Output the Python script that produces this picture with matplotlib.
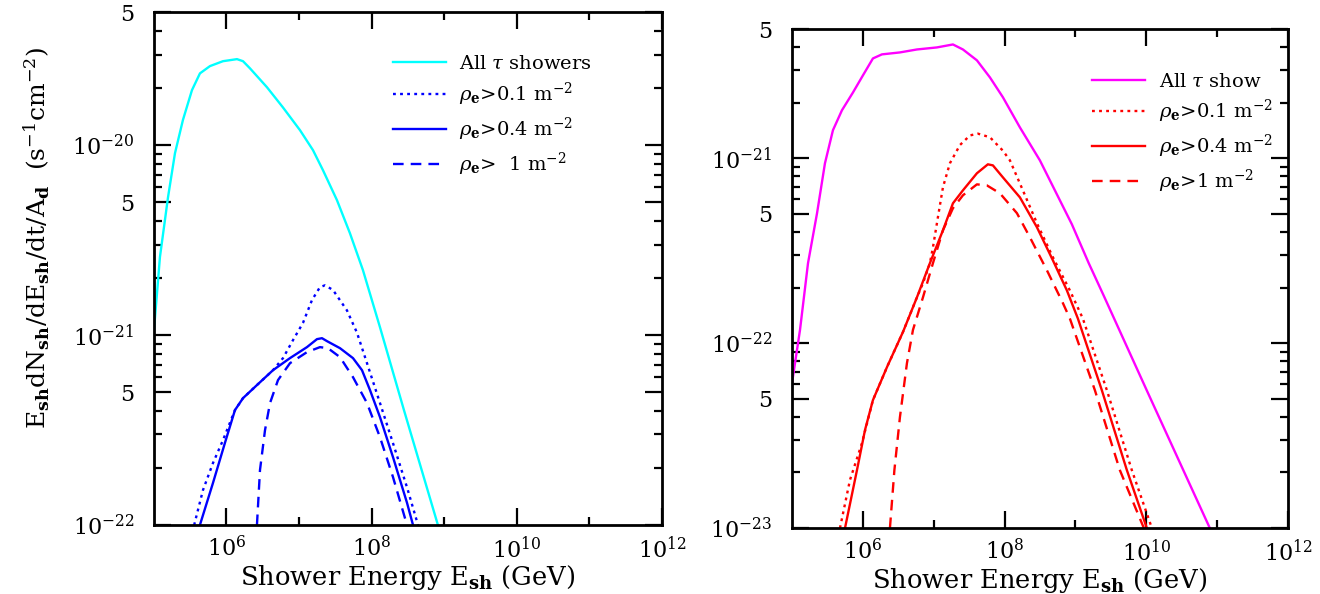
import numpy as np
import matplotlib
matplotlib.use("Agg")
import matplotlib.pyplot as plt
from matplotlib.ticker import FixedLocator, NullFormatter

plt.rcParams['font.family'] = ['DejaVu Serif']
plt.rcParams['mathtext.fontset'] = 'dejavuserif'

# %%
# Left panel: E dN/dE rates vs log10 E_sh [GeV]
l_all_logE = [5.0, 5.085, 5.196, 5.292, 5.402, 5.526, 5.636, 5.774, 5.953, 6.146, 6.229, 6.325, 6.559,
              6.78, 7.014, 7.193, 7.331, 7.523, 7.702, 7.881, 8.116, 8.446, 8.914]
l_all_val = [1.03e-21, 2.58e-21, 5.32e-21, 9.08e-21, 1.36e-20, 1.95e-20, 2.39e-20, 2.61e-20, 2.77e-20,
             2.84e-20, 2.77e-20, 2.54e-20, 2.02e-20, 1.58e-20, 1.2e-20, 9.42e-21, 7.38e-21, 5.14e-21,
             3.44e-21, 2.2e-21, 1.1e-21, 4.03e-22, 1.0e-22]

l_01_logE = [5.556, 5.678, 5.815, 5.953, 6.118, 6.229, 6.421, 6.642, 6.78, 6.918, 7.055, 7.179, 7.289,
             7.358, 7.468, 7.661, 7.799, 7.937, 8.116, 8.295, 8.488, 8.64]
l_01_val = [1.0e-22, 1.53e-22, 2.12e-22, 2.8e-22, 4.03e-22, 4.66e-22, 5.46e-22, 6.54e-22, 7.57e-22,
            9.42e-22, 1.16e-21, 1.53e-21, 1.79e-21, 1.83e-21, 1.73e-21, 1.35e-21, 1.03e-21, 7.12e-22,
            4.39e-22, 2.7e-22, 1.58e-22, 1.0e-22]

l_04_logE = [5.635, 5.814, 5.979, 6.118, 6.229, 6.421, 6.642, 6.876, 7.11, 7.248, 7.317, 7.386, 7.565,
             7.744, 7.868, 7.978, 8.116, 8.295, 8.488, 8.571]
l_04_val = [1.0e-22, 1.66e-22, 2.7e-22, 4.03e-22, 4.66e-22, 5.46e-22, 6.54e-22, 7.57e-22, 8.65e-22,
            9.53e-22, 9.64e-22, 9.3e-22, 8.54e-22, 7.57e-22, 6.54e-22, 5.14e-22, 3.7e-22, 2.28e-22,
            1.31e-22, 1.0e-22]

l_1_logE = [6.421, 6.463, 6.532, 6.601, 6.711, 6.876, 7.11, 7.289, 7.399, 7.565, 7.744, 7.937, 8.116,
            8.295, 8.488]
l_1_val = [1.0e-22, 1.95e-22, 3.16e-22, 4.39e-22, 5.8e-22, 7.12e-22, 8.14e-22, 8.65e-22, 8.54e-22,
           7.66e-22, 6.01e-22, 4.39e-22, 2.9e-22, 1.79e-22, 1.0e-22]

# Right panel
r_all_logE = [5.0, 5.113, 5.226, 5.353, 5.465, 5.578, 5.705, 5.86, 6.001, 6.142, 6.269, 6.523, 6.763,
              7.045, 7.271, 7.412, 7.609, 7.793, 7.976, 8.216, 8.498, 8.949, 9.189, 9.401, 10.021, 10.896]
r_all_val = [6.08e-23, 1.18e-22, 2.71e-22, 5.04e-22, 9.4e-22, 1.42e-21, 1.82e-21, 2.27e-21, 2.81e-21,
             3.47e-21, 3.65e-21, 3.74e-21, 3.88e-21, 3.98e-21, 4.13e-21, 3.88e-21, 3.39e-21, 2.74e-21,
             2.14e-21, 1.47e-21, 9.75e-22, 4.4e-22, 2.7e-22, 1.8e-22, 5.4e-23, 1.0e-23]

r_01_logE = [5.677, 5.818, 5.987, 6.142, 6.34, 6.566, 6.763, 6.848, 6.946, 6.989, 7.059, 7.13, 7.228,
             7.37, 7.511, 7.623, 7.793, 7.976, 8.075, 8.258, 8.456, 8.681, 8.921, 9.104, 9.443, 9.795,
             10.078]
r_01_val = [1.0e-23, 1.82e-23, 2.88e-23, 4.92e-23, 7.42e-23, 1.15e-22, 1.77e-22, 2.11e-22, 2.71e-22,
            3.3e-22, 4.8e-22, 6.97e-22, 9.4e-22, 1.18e-21, 1.33e-21, 1.36e-21, 1.3e-21, 1.1e-21,
            9.75e-22, 6.71e-22, 4.46e-22, 2.92e-22, 1.93e-22, 1.36e-22, 5.57e-23, 2.06e-23, 1.0e-23]

r_04_logE = [5.748, 5.917, 6.03, 6.142, 6.34, 6.566, 6.763, 6.946, 7.13, 7.271, 7.412, 7.609, 7.764,
             7.835, 7.976, 8.216, 8.456, 8.681, 8.879, 9.034, 9.372, 9.725, 10.007]
r_04_val = [1.0e-23, 2.06e-23, 3.39e-23, 4.92e-23, 7.42e-23, 1.15e-22, 1.77e-22, 2.71e-22, 4.08e-22,
            5.71e-22, 6.71e-22, 8.3e-22, 9.28e-22, 9.16e-22, 7.89e-22, 6.15e-22, 4.24e-22, 2.81e-22,
            1.93e-22, 1.36e-22, 5.57e-23, 2.06e-23, 1.0e-23]

r_1_logE = [6.382, 6.445, 6.523, 6.622, 6.707, 6.848, 6.989, 7.13, 7.271, 7.412, 7.609, 7.75, 7.934,
            8.174, 8.357, 8.597, 8.822, 8.921, 9.274, 9.626, 9.965]
r_1_val = [1.0e-23, 2.06e-23, 3.98e-23, 7.8e-23, 1.18e-22, 1.77e-22, 2.71e-22, 4.08e-22, 5.37e-22,
           6.31e-22, 7.23e-22, 7.14e-22, 6.47e-22, 5.05e-22, 3.74e-22, 2.48e-22, 1.65e-22, 1.36e-22,
           5.57e-23, 2.06e-23, 1.0e-23]

rho_labels_l = [r'$\rho_{\mathbf{e}}$>0.1 m$^{-2}$', r'$\rho_{\mathbf{e}}$>0.4 m$^{-2}$',
                r'$\rho_{\mathbf{e}}$>  1 m$^{-2}$']
rho_labels_r = [r'$\rho_{\mathbf{e}}$>0.1 m$^{-2}$', r'$\rho_{\mathbf{e}}$>0.4 m$^{-2}$',
                r'$\rho_{\mathbf{e}}$>1 m$^{-2}$']


def style_axes(ax, ymin, ymax, ylabels):
    ax.set_xscale('log')
    ax.set_yscale('log')
    ax.set_xlim(1e5, 1e12)
    ax.set_ylim(ymin, ymax)
    # x ticks: labelled at even decades, short ticks at odd ones
    ax.xaxis.set_major_locator(FixedLocator([1e6, 1e8, 1e10, 1e12]))
    ax.set_xticklabels([r'$10^{6}$', r'$10^{8}$', r'$10^{10}$', r'$10^{12}$'])
    ax.xaxis.set_minor_locator(FixedLocator([1e7, 1e9, 1e11]))
    ax.xaxis.set_minor_formatter(NullFormatter())
    # y ticks: 1 and 5 of each decade labelled
    ax.yaxis.set_major_locator(FixedLocator(ylabels))
    lab = []
    for v in ylabels:
        e = int(np.floor(np.log10(v) + 1e-9))
        m = v / 10.0 ** e
        lab.append(r'$10^{%d}$' % e if abs(m - 1) < 1e-6 else '5')
    ax.set_yticklabels(lab)
    dec = np.floor(np.log10(ymin))
    ymin_list = []
    for d in np.arange(dec, dec + 3):
        for m in [2, 3, 4, 6, 7, 8, 9]:
            if ymin < m * 10.0 ** d < ymax:
                ymin_list.append(m * 10.0 ** d)
    ax.yaxis.set_minor_locator(FixedLocator(ymin_list))
    ax.yaxis.set_minor_formatter(NullFormatter())
    ax.tick_params(which='both', direction='in', top=True, right=True, width=1.6, labelsize=16)
    ax.tick_params(which='major', length=12)
    ax.tick_params(which='minor', length=6)
    ax.tick_params(axis='x', which='major', pad=8)
    ax.tick_params(axis='y', which='major', pad=14)
    for sp in ax.spines.values():
        sp.set_linewidth(2.0)
    ax.set_xlabel(r'Shower Energy E$_{\mathbf{sh}}$ (GeV)', fontsize=18.5, labelpad=0)


fig = plt.figure(figsize=(13.2, 5.94), dpi=100)
ax1 = fig.add_axes([0.1165, 0.116, 0.385, 0.863])
ax2 = fig.add_axes([0.600, 0.111, 0.3758, 0.840])

lw = 1.7
dot = (0, (1.2, 1.8))
dash = (0, (4.5, 3))
ax1.plot(10 ** np.array(l_all_logE), l_all_val, color='cyan', lw=lw, label=r'All $\tau$ showers')
ax1.plot(10 ** np.array(l_01_logE), l_01_val, color='blue', lw=lw, ls=dot, label=rho_labels_l[0])
ax1.plot(10 ** np.array(l_04_logE), l_04_val, color='blue', lw=lw, label=rho_labels_l[1])
ax1.plot(10 ** np.array(l_1_logE), l_1_val, color='blue', lw=lw, ls=dash, label=rho_labels_l[2])

ax2.plot(10 ** np.array(r_all_logE), r_all_val, color='magenta', lw=lw, label=r'All $\tau$ show')
ax2.plot(10 ** np.array(r_01_logE), r_01_val, color='red', lw=lw, ls=dot, label=rho_labels_r[0])
ax2.plot(10 ** np.array(r_04_logE), r_04_val, color='red', lw=lw, label=rho_labels_r[1])
ax2.plot(10 ** np.array(r_1_logE), r_1_val, color='red', lw=lw, ls=dash, label=rho_labels_r[2])

style_axes(ax1, 1e-22, 5e-20, [1e-22, 5e-22, 1e-21, 5e-21, 1e-20, 5e-20])
style_axes(ax2, 1e-23, 5e-21, [1e-23, 5e-23, 1e-22, 5e-22, 1e-21, 5e-21])

ax1.set_ylabel(r'E$_{\mathbf{sh}}$dN$_{\mathbf{sh}}$/dE$_{\mathbf{sh}}$/dt/A$_{\mathbf{d}}$  (s$^{-1}$cm$^{-2}$)',
               fontsize=18)
ax1.yaxis.set_label_coords(-0.20, 0.56)

leg_kw = dict(frameon=False, fontsize=14, handlelength=2.7, handletextpad=0.7, labelspacing=0.4,
              borderaxespad=0.0)
ax1.legend(loc='upper left', bbox_to_anchor=(0.456, 0.932), **leg_kw)
ax2.legend(loc='upper left', bbox_to_anchor=(0.59, 0.929), **leg_kw)

fig.savefig('out.png', dpi=100)
